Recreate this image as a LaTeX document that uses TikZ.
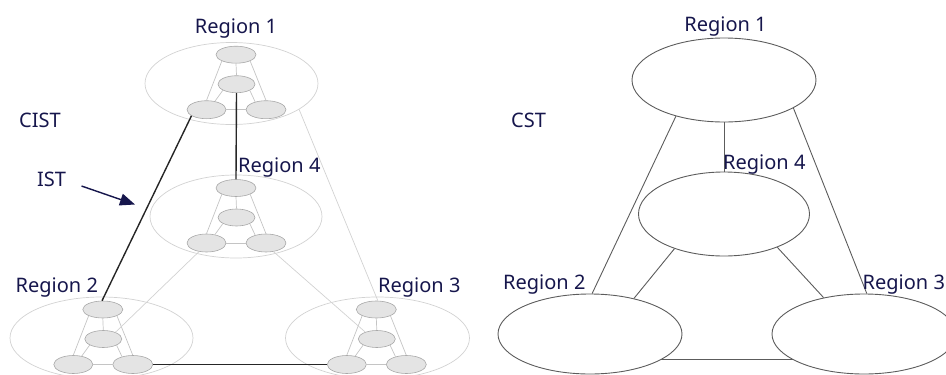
\documentclass[tikz,border=0pt]{standalone}
\usepackage{fontspec}
\setmainfont{Noto Sans}
\usetikzlibrary{shapes.geometric,arrows.meta}

\definecolor{ink}{RGB}{22,22,76}
\definecolor{hostfill}{RGB}{228,228,228}
\definecolor{hostedge}{RGB}{168,168,168}
\definecolor{meshline}{RGB}{196,196,196}
\definecolor{zoneline}{RGB}{210,210,210}
\definecolor{treeline}{RGB}{38,38,38}
\definecolor{cstline}{RGB}{92,92,92}

\tikzset{
  lbl/.style={text=ink, font=\fontsize{20}{24}\selectfont, inner sep=0pt},
  zone/.style={ellipse, draw=zoneline, line width=0.7pt, inner sep=0pt},
  host/.style={ellipse, draw=hostedge, fill=hostfill, line width=0.6pt,
               inner sep=0pt, minimum width=40pt, minimum height=17pt},
  mesh/.style={draw=meshline, line width=0.7pt},
  cross/.style={draw=zoneline, line width=0.7pt},
  treelink/.style={draw=treeline, line width=1.4pt},
  region/.style={ellipse, draw=cstline, line width=0.9pt, inner sep=0pt},
  cstlink/.style={draw=cstline, line width=0.9pt},
}

% four hosts of one region, meshed together; #1 prefix, (#2,#3) top host
\newcommand\hostgroup[3]{%
  \node[host] (#1t) at (#2,#3) {};
  \node[host, minimum width=37pt] (#1m) at (#2+0.5,#3+29.5) {};
  \node[host, minimum width=39pt, minimum height=18pt] (#1l) at (#2-29.5,#3+55) {};
  \node[host, minimum height=18pt] (#1r) at (#2+30,#3+55) {};
  \draw[mesh] (#1t.south) -- (#1m.north);
  \draw[mesh] (#1t.204) -- (#1l.north);
  \draw[mesh] (#1t.-24) -- (#1r.north);
  \draw[mesh] (#1m.204) -- (#1l.45);
  \draw[mesh] (#1m.-25) -- (#1r.144);
  \draw[mesh] (#1l.east) -- (#1r.west);
}

\begin{document}
\begin{tikzpicture}[x=1pt,y=-1pt]
\useasboundingbox (0,0) rectangle (946,375);
\clip (0,0) rectangle (946,375);

% ---------- CIST: regions with their hosts ----------
\node[zone, minimum width=173pt, minimum height=82pt] (z1) at (231.5,83.5) {};
\node[zone, minimum width=172pt, minimum height=83pt] (z4) at (236,216.5) {};
\node[zone, minimum width=183pt, minimum height=82pt] (z2) at (101.5,338) {};
\node[zone, minimum width=184pt, minimum height=82pt] (z3) at (377.5,338) {};

\hostgroup{a}{236}{54.7}
\hostgroup{d}{236}{188}
\hostgroup{b}{102.8}{309.5}
\hostgroup{c}{376.3}{309.5}

% links between regions outside the tree
\draw[cross] (z1.-21) -- (ct.80);
\draw[cross] (dl.229) -- (bm.29);
\draw[cross] (dr.-49) -- (cm.149);

% the tree links
\draw[treelink] (al.202) -- (bt.95);
\draw[treelink] (am.south) -- (dt.north);
\draw[treelink] (br.east) -- (cl.west);

\node[lbl, anchor=base] (l1) at (236,33.3) {Region 1};
\node[lbl, anchor=base west] (l4) at (238,172.3) {Region 4};
\node[lbl, anchor=base west] (l2) at (15.5,292.3) {Region 2};
\node[lbl, anchor=base west] (l3) at (378,292.3) {Region 3};
\node[lbl, anchor=base west] (cist) at (19,127.3) {CIST};
\node[lbl, anchor=base west] (ist) at (37,186.7) {IST};

\coordinate (istfrom) at (81.5,186);
\coordinate (istto) at (135,204.5);
\draw[draw=ink, fill=ink, line width=1.4pt,
      -{Triangle[length=15pt,width=12pt]}] (istfrom) -- (istto);

% ---------- CST: regions as single nodes ----------
\node[region, minimum width=184pt, minimum height=84pt] (r1) at (724,80) {};
\node[region, minimum width=171pt, minimum height=84pt] (r4) at (724,214) {};
\node[region, minimum width=184pt, minimum height=80pt] (r2) at (590,334) {};
\node[region, minimum width=184pt, minimum height=80pt] (r3) at (864,334) {};

\draw[cstlink] (r1.south) -- (r4.north);
\draw[cstlink] (r1.217) -- (r2.87);
\draw[cstlink] (r1.-22) -- (r3.86);
\draw[cstlink] (r4.215) -- (r2.39);
\draw[cstlink] (r4.-32) -- (r3.138);
\draw[cstlink] (r2.-20) -- (r3.200);

\node[lbl, anchor=base] (m1) at (725.5,31.7) {Region 1};
\node[lbl, anchor=base west] (m4) at (723,169.3) {Region 4};
\node[lbl, anchor=base west] (m2) at (503,289.3) {Region 2};
\node[lbl, anchor=base west] (m3) at (862.5,289.3) {Region 3};
\node[lbl, anchor=base west] (cst) at (511,127.3) {CST};
\end{tikzpicture}
\end{document}
